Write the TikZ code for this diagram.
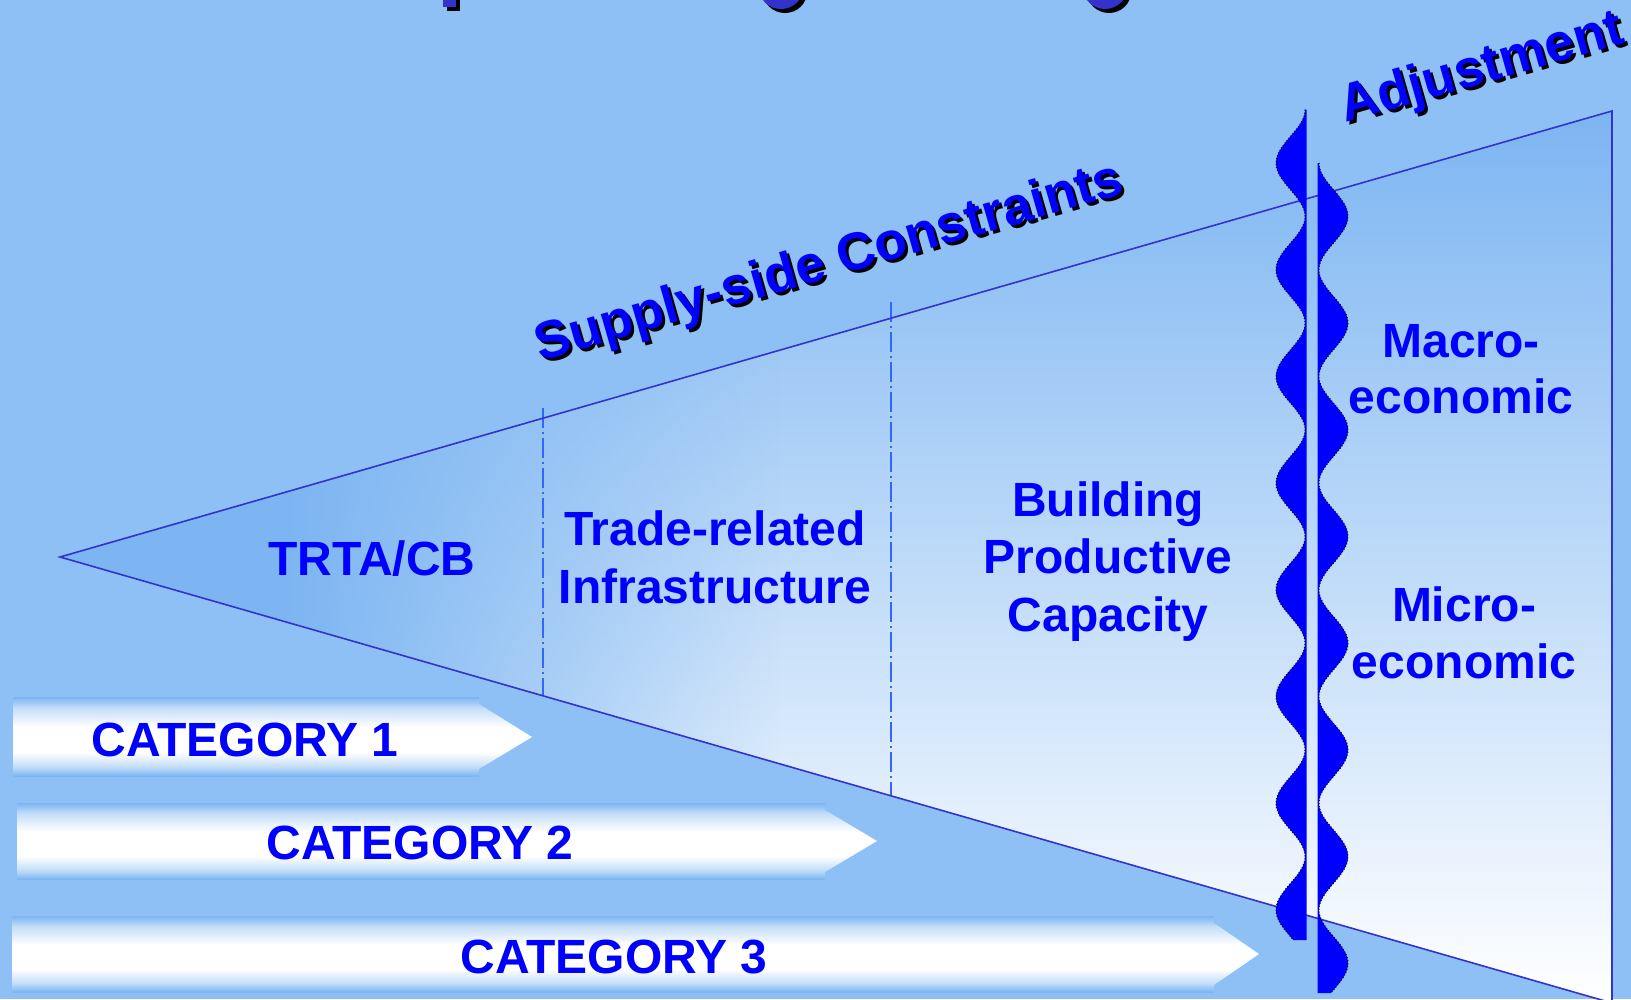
\documentclass[tikz,border=0pt]{standalone}
\usepackage{fontspec}
\setmainfont{Liberation Sans}
\usetikzlibrary{fadings}
\definecolor{bgblue}{RGB}{142,192,245}
\definecolor{deepblue}{RGB}{124,181,242}
\definecolor{barmid}{RGB}{196,222,249}
\definecolor{edgeblue}{RGB}{51,51,204}
\definecolor{dashblue}{RGB}{51,102,255}
\definecolor{txtblue}{RGB}{0,0,255}
\definecolor{wavefill}{RGB}{0,0,255}
\pgfdeclareverticalshading{barshade}{100bp}{color(0bp)=(deepblue); color(25bp)=(deepblue); color(31bp)=(barmid); color(40bp)=(white); color(56bp)=(white); color(68bp)=(barmid); color(75bp)=(deepblue); color(100bp)=(deepblue)}
\tikzfading[name=tipfadeout, left color=transparent!0, right color=transparent!100]
\tikzset{
  lbl/.style={font=\fontsize{48}{57}\selectfont\bfseries, text=txtblue, inner sep=0pt, anchor=base},
  rotlbl/.style={font=\fontsize{53}{60}\selectfont\bfseries, inner sep=0pt, anchor=base, rotate=16},
  wavebox/.style={fill=wavefill},
  waveline/.style={black, line width=1pt, dotted},
  divider/.style={dashblue, line width=1.3pt, dash pattern=on 20pt off 4pt on 2pt off 4pt},
  funnel/.style={edgeblue, line width=1.6pt},
  bar/.style={shading=barshade},
}
\begin{document}
\begin{tikzpicture}[x=1pt,y=-1pt]
\useasboundingbox (0,0) rectangle (1631,999);
\clip (0,0) rectangle (1631,999);
\fill[bgblue] (0,0) rectangle (1631,999);

% funnel
\coordinate (tip) at (60,557);
\coordinate (tr) at (1612,111);
\coordinate (br) at (1612,1003);
\shade[top color=deepblue, bottom color=white] (tip) -- (tr) -- (br) -- cycle;
\begin{scope}
  \clip (tip) -- (tr) -- (br) -- cycle;
  \fill[deepblue] (50,100) rectangle (280,1010);
  \fill[deepblue, path fading=tipfadeout] (280,100) rectangle (780,1010);
\end{scope}
\draw[divider] (543,408) -- (543,696);
\draw[divider] (891,302) -- (891,796);
\draw[funnel] (tip) -- (tr) -- (br) -- cycle;

% section labels
\node[lbl] (trta) at (372,575) {TRTA/CB};
\node[lbl] (tri1) at (715,545) {Trade-related};
\node[lbl] (tri2) at (715,603) {Infrastructure};
\node[lbl] (bpc1) at (1108,516) {Building};
\node[lbl] (bpc2) at (1108,573) {Productive};
\node[lbl] (bpc3) at (1108,631) {Capacity};
\node[lbl] (mac1) at (1461,357) {Macro-};
\node[lbl] (mac2) at (1461,413) {economic};
\node[lbl] (mic1) at (1464,621) {Micro-};
\node[lbl] (mic2) at (1464,678) {economic};

% category arrows
\shade[bar] (13.5,697) rectangle (479,776);
\begin{scope}
  \clip (479,704) -- (532,737) -- (479,769) -- cycle;
  \shade[bar] (479,697) rectangle (533,776);
\end{scope}
\node[lbl] (cat1) at (245,756) {CATEGORY 1};

\shade[bar] (17,803) rectangle (825,879);
\begin{scope}
  \clip (825,810) -- (877,841) -- (825,872) -- cycle;
  \shade[bar] (825,803) rectangle (878,879);
\end{scope}
\node[lbl] (cat2) at (420,859) {CATEGORY 2};

\shade[bar] (12.5,916) rectangle (1214,992);
\begin{scope}
  \clip (1214,923) -- (1259,954) -- (1214,985) -- cycle;
  \shade[bar] (1214,916) rectangle (1260,992);
\end{scope}
\node[lbl] (cat3) at (614,973) {CATEGORY 3};

% wavy band
\fill[wavebox] (1306.5,109.7) -- plot[domain=109.7:940, samples=260, variable=\t] ({1305-14.5*(1-cos(3.37395*(\t-109.7)))},{\t}) -- (1306.5,940) -- cycle;
\draw[waveline] plot[domain=109.7:940, samples=260, variable=\t] ({1305-14.5*(1-cos(3.37395*(\t-109.7)))},{\t});
\fill[wavebox] (1317.5,163) -- plot[domain=163:993, samples=260, variable=\t] ({1319+14.5*(1-cos(3.37395*(\t-163)))},{\t}) -- (1317.5,993) -- cycle;
\draw[waveline] plot[domain=163:993, samples=260, variable=\t] ({1319+14.5*(1-cos(3.37395*(\t-163)))},{\t});

% rotated headings with shadow
\node[rotlbl, text=black] (supplyshadow) at (836,280) {Supply-side Constraints};
\node[rotlbl, text=txtblue] (supply) at (833,277) {Supply-side Constraints};
\node[rotlbl, text=black] (adjshadow) at (1489,85.5) {Adjustment};
\node[rotlbl, text=txtblue] (adj) at (1486,82.5) {Adjustment};

% cut-off title fragments
\fill[black] (447,-5) rectangle (460,11);
\fill[edgeblue] (443,-5) rectangle (456,7);
\fill[black] (785,-8) ellipse [x radius=22, y radius=21];
\fill[edgeblue] (781,-12) ellipse [x radius=22, y radius=21];
\fill[black] (1109,-8) ellipse [x radius=22, y radius=21];
\fill[edgeblue] (1105,-12) ellipse [x radius=22, y radius=21];
\end{tikzpicture}
\end{document}
